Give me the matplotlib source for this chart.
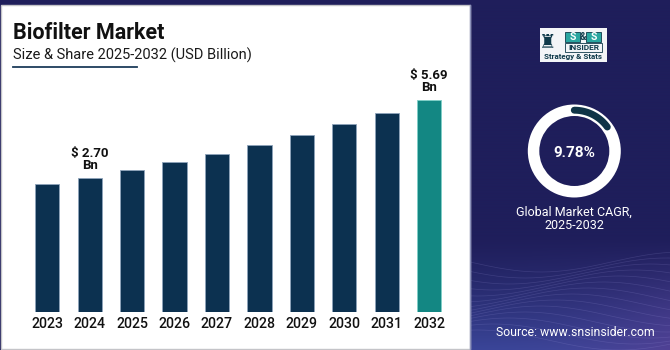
import numpy as np
import matplotlib.pyplot as plt
from matplotlib.patches import Rectangle, Wedge

plt.rcParams['font.family'] = ['Roboto', 'DejaVu Sans']

# data
years = ['2023', '2024', '2025', '2026', '2027', '2028', '2029', '2030', '2031', '2032']
values = [2.45, 2.70, 3.00, 3.30, 3.62, 3.98, 4.34, 4.77, 5.18, 5.69]
labelled = ['2024', '2032']
cagr = 9.78
cagr_period = '2025-2032'
ring_share = 0.15   # part of the ring drawn dark

NAVY = '#1f1e5b'
BAR = '#0c3150'
TEAL = '#138783'

W, H = 670, 350
fig = plt.figure(figsize=(6.7, 3.5), dpi=100, facecolor=NAVY)

# background / decoration in pixel coords
bg = fig.add_axes([0, 0, 1, 1])
bg.axis('off')

# right panel gradient with waves
ny, nx = 200, 200
yy = np.linspace(0, 1, ny)[:, None]
xx = np.linspace(0, 1, nx)[None, :]
c0 = np.array([0x1f, 0x1e, 0x5b]) / 255
c1 = np.array([0x3a, 0x45, 0x98]) / 255
c2 = np.array([0x5e, 0x3e, 0x92]) / 255
t = np.clip((yy - 0.68) / 0.32, 0, 1) ** 1.3
img = c0 * (1 - t[..., None]) + c1 * t[..., None]
tp = (t * xx ** 2)[..., None] * 0.6
img = img * (1 - tp) + c2 * tp
img = np.broadcast_to(img, (ny, nx, 3))
bg.imshow(img, extent=(470, 670, 350, 0), aspect='auto', zorder=0)
xs = np.linspace(470, 670, 200)
for k in range(14):
    y0 = 262 + k * 6
    bg.plot(xs, y0 + 10 * np.sin((xs - 470) / 45 + k * 0.35), color='#a9a3e8',
            lw=0.5, alpha=0.18, zorder=1)

bg.add_patch(Rectangle((0, 0), 670, 5, fc=NAVY, ec='none', zorder=1))
bg.add_patch(Rectangle((0.5, 5), 469, 344, fc='white', ec='#c4c4c8', lw=1, zorder=2))
bg.plot([469.5, 469.5], [5, 349], color='#8d93bb', lw=1, zorder=2)
bg.set_xlim(0, W)
bg.set_ylim(H, 0)

# titles
bg.text(13, 39, 'Biofilter Market', fontsize=15.5, fontweight='bold', color='#111111',
        va='baseline', zorder=3)
bg.text(13, 60, 'Size & Share 2025-2032 (USD Billion)', fontsize=10.5, color='#1a1a1a',
        va='baseline', zorder=3)
bg.plot([13, 137], [67, 67], color='#1c3d5a', lw=1.3, zorder=3)

# logo
bg.add_patch(Rectangle((540, 28), 67, 34, fc='#f3f5f7', ec='none', zorder=3))
bg.text(548, 42, '\u265c', family='DejaVu Sans', fontsize=14, color='#0f3a4a',
        ha='center', va='center', zorder=4)
for sx in (565, 586):
    bg.add_patch(Rectangle((sx, 31.5), 15, 10.5, fc='#2aa6a0', ec='#0f3a4a', lw=0.6, zorder=4))
    bg.text(sx + 7.5, 37, 'S', fontsize=7.5, fontweight='bold', color='white',
            ha='center', va='center', zorder=5)
bg.text(583, 37, '&', fontsize=7, fontweight='bold', color='#0f3a4a', ha='center',
        va='center', zorder=5)
bg.add_patch(Rectangle((565, 43), 37, 8.5, fc='none', ec='#0f3a4a', lw=0.6, zorder=4))
bg.text(583.5, 47.5, 'INSIDER', fontsize=6, fontweight='bold', color='#0f3a4a',
        ha='center', va='center', zorder=5)
bg.text(573, 57, 'Strategy & Stats', fontsize=5.8, fontweight='bold', color='#0f3a4a',
        ha='center', va='center', zorder=5)

bg.text(574, 219, 'Global Market CAGR,\n' + cagr_period, fontsize=9, color='white',
        ha='center', va='center', linespacing=1.05, zorder=3)
bg.text(575, 333, 'Source: www.snsinsider.com', fontsize=8.8, color='white',
        ha='center', va='center', zorder=3)

# bar chart
base = -2.45
ax = fig.add_axes([4.8 / W, 38.3 / H, 466.8 / W, (311.7 - 60) / H])
ax.patch.set_alpha(0)
x = np.arange(len(years))
colors = [TEAL if y == years[-1] else BAR for y in years]
edges = ['#7fd0c8' if y == years[-1] else '#8ea3bb' for y in years]
heights = [v - base for v in values]
ax.bar(x, heights, bottom=base, width=0.57, color=colors, edgecolor=edges, linewidth=0.6)
for i, (y, v) in enumerate(zip(years, values)):
    if y in labelled:
        ax.annotate(f'$ {v:.2f}\nBn', xy=(i, v), xytext=(0, 4.5), textcoords='offset points',
                    ha='center', va='bottom', fontsize=9.5, fontweight='bold',
                    color='#111111', linespacing=0.9)
ax.set_xlim(-1, 10)
ax.set_ylim(base, base + (311.7 - 60) / 26.0)
ax.set_xticks(x, years)
ax.tick_params(axis='x', length=0, pad=3.5, labelsize=10.2, labelcolor='#111111')
for lab in ax.get_xticklabels():
    lab.set_fontweight('medium')
ax.set_yticks([])
for s in ax.spines.values():
    s.set_visible(False)

# CAGR ring
dx = fig.add_axes([524.3 / W, (H - 151 - 50) / H, 100 / W, 100 / H])
dx.set_xlim(-50, 50)
dx.set_ylim(-50, 50)
dx.axis('off')
dx.add_patch(Wedge((0, 0), 46.5, 0, 360, width=11.5, fc='white', ec='none'))
th = np.radians(np.linspace(90, 90 - 360 * ring_share, 60))
dx.plot(40.8 * np.cos(th), 40.8 * np.sin(th), color='#0f3447', lw=5,
        solid_capstyle='round')
dx.text(0, -2, f'{cagr:.2f}%', fontsize=11, fontweight='bold', color='white',
        ha='center', va='center')

fig.savefig('out.png', dpi=100, facecolor=NAVY)
